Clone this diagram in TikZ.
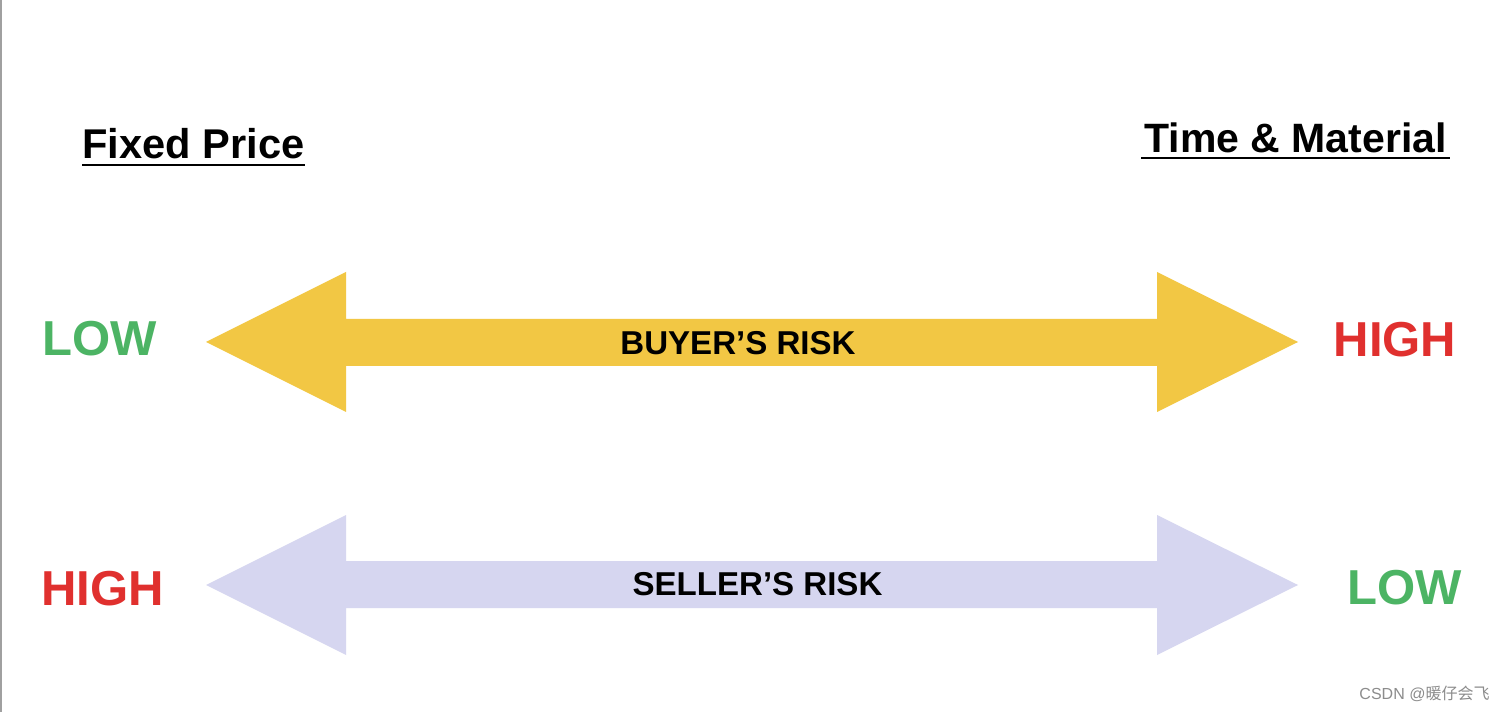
\documentclass[tikz,border=0pt]{standalone}
\usepackage{fontspec}
\setmainfont{Liberation Sans}
\newfontfamily\cjk{Noto Sans CJK SC}
\definecolor{riskyellow}{RGB}{242,199,68}
\definecolor{risklilac}{RGB}{214,214,240}
\definecolor{lowgreen}{RGB}{76,180,100}
\definecolor{highred}{RGB}{224,48,46}
\tikzset{every picture/.style={line width=0.75pt}}
\tikzset{
  headtxt/.style={anchor=base,inner sep=0pt,font=\bfseries},
  leveltxt/.style={anchor=base,inner sep=0pt,font=\bfseries\fontsize{36.8}{40}\selectfont},
  risktxt/.style={anchor=base,inner sep=0pt,font=\bfseries\fontsize{24.8}{28}\selectfont}
}

\begin{document}
\begin{tikzpicture}[x=0.75pt,y=0.75pt,yscale=-1,xscale=1]
\useasboundingbox (0,0) rectangle (1506,712);
\fill [white] (0,0) rectangle (1506,712);

%Straight Lines [left edge]
\draw [line width=1.5, color={rgb, 255:red, 160; green, 160; blue, 160 }] (1,0) -- (1,712) ;

%Shape: Double Arrow [buyer]
\fill [riskyellow] (206,342) -- (346,272) -- (346,319) -- (1157,319) -- (1157,272) -- (1298,342) -- (1157,412) -- (1157,366) -- (346,366) -- (346,412) -- cycle ;
%Shape: Double Arrow [seller]
\fill [risklilac] (206,585) -- (346,515) -- (346,561) -- (1157,561) -- (1157,515) -- (1298,585) -- (1157,655) -- (1157,608) -- (346,608) -- (346,655) -- cycle ;

% Text Node
\node (fixed) [headtxt] at (193.5,159) {\fontsize{31.2}{34}\selectfont Fixed Price};
\draw [line width=1.8] (82,165) -- (305,165) ;
% Text Node
\node (tandm) [headtxt] at (1295.5,153) {\fontsize{30.75}{34}\selectfont Time \& Material};
\draw [line width=1.8] (1141,158) -- (1450,158) ;

% Text Node
\node (buylow) [leveltxt, text=lowgreen] at (99.5,356) {LOW};
% Text Node
\node (buyhigh) [leveltxt, text=highred] at (1395,357) {HIGH};
% Text Node
\node (sellhigh) [leveltxt, text=highred] at (102.5,605) {HIGH};
% Text Node
\node (selllow) [leveltxt, text=lowgreen] at (1404.5,604) {LOW};

% Text Node
\node (buyrisk) [risktxt] at (738,355) {BUYER’S RISK};
% Text Node
\node (sellrisk) [risktxt] at (757.5,595) {SELLER’S RISK};

% Text Node
\node (mark) [anchor=base east, inner sep=0pt, text={rgb, 255:red, 140; green, 140; blue, 140 }] at (1490,699) {\fontsize{12}{14}\selectfont CSDN @{\cjk 暖仔会飞}};

\end{tikzpicture}
\end{document}
